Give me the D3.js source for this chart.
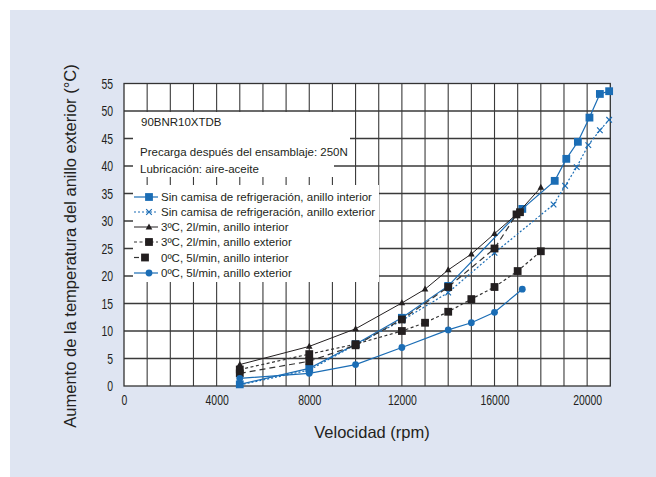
<!DOCTYPE html>
<html><head><meta charset="utf-8">
<script src="https://cdn.jsdelivr.net/npm/d3@7"></script>
<style>
html,body{margin:0;padding:0;background:#fff;}
svg{display:block;}
</style></head>
<body><svg id="c" width="656" height="477"></svg>
<script>
// ---- data ----
const xTicks = [0, 4000, 8000, 12000, 16000, 20000];
const yTicks = [0, 5, 10, 15, 20, 25, 30, 35, 40, 45, 50, 55];
const seriesNames = [
  "Sin camisa de refrigeración, anillo interior",
  "Sin camisa de refrigeración, anillo exterior",
  "3ºC, 2l/min, anillo interior",
  "3ºC, 2l/min, anillo exterior",
  "0ºC, 5l/min, anillo interior",
  "0ºC, 5l/min, anillo exterior"
];
const s1 = [[5000,0.3],[8000,3.2],[10000,7.6],[12000,12.4],[14000,18.2],[17200,32.2],[18600,37.3],[19100,41.3],[19600,44.4],[20100,48.8],[20550,53.1],[20950,53.6]];
const s2 = [[5000,0.2],[8000,2.9],[10000,7.5],[12000,11.9],[14000,17.0],[16000,24.2],[18550,33.0],[19050,36.4],[19550,39.8],[20050,43.8],[20550,46.5],[20950,48.4]];
const s3 = [[5000,3.9],[8000,7.2],[10000,10.4],[12000,15.1],[13000,17.6],[14000,21.1],[15000,24.0],[16000,27.7],[17000,31.4],[18000,36.1]];
const s4 = [[5000,3.0],[8000,5.8],[10000,7.6],[12000,10.0],[13000,11.5],[14000,13.5],[15000,15.8],[16000,18.0],[17000,20.9],[18000,24.5]];
const s5 = [[5000,2.3],[8000,4.5],[10000,7.4],[12000,12.1],[14000,18.0],[16000,25.0],[16950,31.2],[17100,31.6]];
const s6 = [[5000,1.4],[8000,2.3],[10000,3.9],[12000,7.0],[14000,10.2],[15000,11.5],[16000,13.4],[17200,17.6]];

const BLUE = "#1b6db5", BLACK = "#231f20";
const styles = [
  {data:s1, color:BLUE, dash:null, marker:"square", w:1.2},
  {data:s2, color:BLUE, dash:"2,2", marker:"x", w:1.2},
  {data:s3, color:BLACK, dash:null, marker:"triangle", w:1},
  {data:s4, color:"#333", dash:"3,2.5", marker:"square", w:1.2},
  {data:s5, color:"#333", dash:"6,4", marker:"square", w:1.2},
  {data:s6, color:BLUE, dash:null, marker:"circle", w:1.2}
];

const svg = d3.select("#c");
svg.append("rect").attr("x",10).attr("y",10).attr("width",646).attr("height",467).attr("fill","#dfe5f2");

const L=124, R=610.3, T=83.5, B=386;
const x = d3.scaleLinear().domain([0,21000]).range([L,R]);
const y = d3.scaleLinear().domain([0,55]).range([B,T]);

svg.append("rect").attr("x",L).attr("y",T).attr("width",R-L).attr("height",B-T).attr("fill","#fff");

const g = svg.append("g");
// grid
const gx = d3.range(1000, 21000, 1000);
g.selectAll(".vg").data(gx).enter().append("line")
  .attr("x1",d=>x(d)).attr("x2",d=>x(d)).attr("y1",T).attr("y2",B)
  .attr("stroke","#3a3a3a").attr("stroke-width",1.1);
g.selectAll(".hg").data(yTicks.slice(1,-1)).enter().append("line")
  .attr("x1",L).attr("x2",R).attr("y1",d=>y(d)).attr("y2",d=>y(d))
  .attr("stroke","#3a3a3a").attr("stroke-width",1.3);
svg.append("rect").attr("x",L).attr("y",T).attr("width",R-L).attr("height",B-T)
  .attr("fill","none").attr("stroke","#333").attr("stroke-width",1.3);

// white text boxes
svg.append("rect").attr("x",133).attr("y",112).attr("width",217).attr("height",48).attr("fill","#fff");
svg.append("rect").attr("x",133).attr("y",159).attr("width",201).attr("height",18).attr("fill","#fff");
svg.append("rect").attr("x",133).attr("y",185).attr("width",246).attr("height",97).attr("fill","#fff");

const tf = "'Liberation Sans', Arial, sans-serif";
svg.append("text").attr("x",141).attr("y",126).text("90BNR10XTDB")
  .attr("font-family",tf).attr("font-size",11.5).attr("fill","#231f20");
svg.append("text").attr("x",140).attr("y",156).text("Precarga después del ensamblaje: 250N")
  .attr("font-family",tf).attr("font-size",11.5).attr("fill","#231f20");
svg.append("text").attr("x",140).attr("y",173).text("Lubricación: aire-aceite")
  .attr("font-family",tf).attr("font-size",11.5).attr("fill","#231f20");

// axes tick labels (condensed look via horizontal scaling)
const SX = 0.72;
const xAxis = d3.axisBottom(x).tickValues(xTicks).tickSize(0).tickPadding(9).tickFormat(d3.format("d"));
const ax = svg.append("g").attr("transform",`translate(0,${B})`).call(xAxis);
ax.select(".domain").remove();
ax.selectAll("text").attr("font-family",tf).attr("font-size",14.5).attr("fill","#231f20")
  .attr("transform",`scale(${SX},1)`);
const yAxis = d3.axisLeft(y).tickValues(yTicks).tickSize(0).tickPadding(10).tickFormat(d3.format("d"));
const ay = svg.append("g").attr("transform",`translate(${L},0)`).call(yAxis);
ay.select(".domain").remove();
ay.selectAll("text").attr("font-family",tf).attr("font-size",14.5).attr("fill","#231f20")
  .attr("x",-11/SX).attr("transform",`scale(${SX},1)`);

// titles
svg.append("text").attr("x",372).attr("y",438).attr("text-anchor","middle")
  .attr("font-family",tf).attr("font-size",16.5).attr("fill","#231f20").text("Velocidad (rpm)");
svg.append("text").attr("transform","translate(76,246) rotate(-90)").attr("text-anchor","middle")
  .attr("font-family",tf).attr("font-size",16.5).attr("fill","#231f20")
  .text("Aumento de la temperatura del anillo exterior (°C)");

// markers
function drawMarker(sel, type, color, cx, cy){
  if(type==="square") sel.append("rect").attr("x",cx-3.9).attr("y",cy-3.9).attr("width",7.8).attr("height",7.8).attr("fill",color);
  else if(type==="circle") sel.append("circle").attr("cx",cx).attr("cy",cy).attr("r",3.4).attr("fill",color);
  else if(type==="triangle") sel.append("path").attr("d",`M${cx},${cy-3.6}L${cx+3.3},${cy+2.4}L${cx-3.3},${cy+2.4}Z`).attr("fill",color);
  else if(type==="x") sel.append("path").attr("d",`M${cx-2.8},${cy-2.8}L${cx+2.8},${cy+2.8}M${cx-2.8},${cy+2.8}L${cx+2.8},${cy-2.8}`).attr("stroke",color).attr("stroke-width",1.2);
}
const line = d3.line().x(d=>x(d[0])).y(d=>y(d[1]));
const plot = svg.append("g");
styles.forEach(s=>{
  const gg = plot.append("g");
  gg.append("path").attr("d",line(s.data)).attr("fill","none").attr("stroke",s.color)
    .attr("stroke-width",s.w).attr("stroke-dasharray",s.dash);
  s.data.forEach(d=>drawMarker(gg, s.marker, s.marker==="x"?BLUE:(s.color==="#333"?BLACK:s.color), x(d[0]), y(d[1])));
});

// legend
const leg = svg.append("g");
const rowY = [197, 212, 227, 242, 257.5, 273];
styles.forEach((s,i)=>{
  const yy = rowY[i];
  const mx = i===4 ? 145 : 149;
  if(i===4){
    leg.append("line").attr("x1",134).attr("x2",139).attr("y1",yy).attr("y2",yy).attr("stroke","#333").attr("stroke-width",1.2);
  } else {
    leg.append("line").attr("x1",134).attr("x2",158).attr("y1",yy).attr("y2",yy).attr("stroke",s.color)
      .attr("stroke-width",s.w).attr("stroke-dasharray",s.dash);
  }
  drawMarker(leg, s.marker, s.marker==="x"?BLUE:(s.color==="#333"?BLACK:s.color), mx, yy);
  leg.append("text").attr("x",161).attr("y",yy+4).text(seriesNames[i])
    .attr("font-family",tf).attr("font-size",11.5).attr("fill","#231f20");
});
</script></body></html>
